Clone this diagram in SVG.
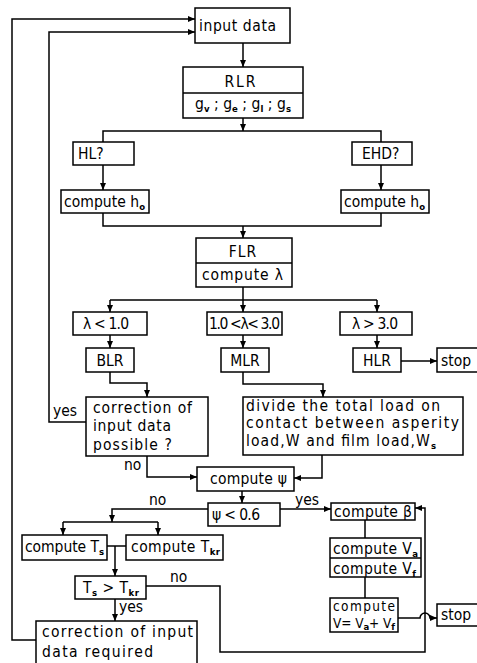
<svg xmlns="http://www.w3.org/2000/svg" width="477" height="663" viewBox="0 0 477 663">
<style>
.b{fill:#fff;stroke:#000;stroke-width:1.5}
.c{fill:none;stroke:#000;stroke-width:1.5}
text{font-family:"DejaVu Sans Condensed","DejaVu Sans","Liberation Sans",sans-serif;font-stretch:condensed;font-size:15.5px;fill:#000}
.s{font-size:9.5px;font-weight:bold}
.m{text-anchor:middle}
.t{font-size:13.5px}
</style>
<defs>
<marker id="a" markerWidth="8" markerHeight="6" refX="7" refY="3" orient="auto" markerUnits="userSpaceOnUse">
<path d="M0,0 L7,3 L0,6 z" fill="#000"/>
</marker>
</defs>
<rect width="477" height="663" fill="#fff"/>
<g id="connectors">
<path class="c" d="M36,640 H12 V19 H195" marker-end="url(#a)"/>
<path class="c" d="M86,422 H49 V32 H195" marker-end="url(#a)"/>
<path class="c" d="M243,43 V67" marker-end="url(#a)"/>
<path class="c" d="M243,118 V131" marker-end="url(#a)"/>
<path class="c" d="M103,142 V131 H381 V142"/>
<path class="c" d="M103,165 V190" marker-end="url(#a)"/>
<path class="c" d="M381,165 V190" marker-end="url(#a)"/>
<path class="c" d="M103,213 V226 H381 V213"/>
<path class="c" d="M243,226 V238" marker-end="url(#a)"/>
<path class="c" d="M243,287 V300 M110,300 H377"/>
<path class="c" d="M110,300 V312" marker-end="url(#a)"/>
<path class="c" d="M243,300 V312" marker-end="url(#a)"/>
<path class="c" d="M377,300 V312" marker-end="url(#a)"/>
<path class="c" d="M110,335 V348" marker-end="url(#a)"/>
<path class="c" d="M243,335 V348" marker-end="url(#a)"/>
<path class="c" d="M377,335 V348" marker-end="url(#a)"/>
<path class="c" d="M401,361 H437" marker-end="url(#a)"/>
<path class="c" d="M110,372 V383 H147 V397" marker-end="url(#a)"/>
<path class="c" d="M243,372 V384 H323 V397" marker-end="url(#a)"/>
<path class="c" d="M147,456 V477 H197" marker-end="url(#a)"/>
<path class="c" d="M322,455 V478 H294" marker-end="url(#a)"/>
<path class="c" d="M242,491 V503" marker-end="url(#a)"/>
<path class="c" d="M208,509 H112 V522" marker-end="url(#a)"/>
<path class="c" d="M63,522 H158"/>
<path class="c" d="M63,522 V535" marker-end="url(#a)"/>
<path class="c" d="M158,522 V535" marker-end="url(#a)"/>
<path class="c" d="M107,546 H126"/>
<path class="c" d="M115,546 V576" marker-end="url(#a)"/>
<path class="c" d="M115,599 V621" marker-end="url(#a)"/>
<path class="c" d="M146,586 H220 V652 H425 V508 H415" marker-end="url(#a)"/>
<path class="c" d="M280,509 H331" marker-end="url(#a)"/>
<path class="c" d="M365,520 V538 M365,577 V598"/>
<path class="c" d="M398,618 H420 A5,5 0 0 1 430,618 H437" marker-end="url(#a)"/>
<text x="53" y="416">yes</text>
<text x="124" y="470">no</text>
<text x="149" y="505">no</text>
<text x="295" y="505">yes</text>
<text x="170" y="582">no</text>
<text x="119" y="612">yes</text>
</g>
<g id="input"><rect class="b" x="195" y="8" width="95" height="35"/><text x="199" y="31" textLength="77">input data</text></g>
<g id="rlr"><rect class="b" x="183" y="67" width="120" height="51"/><path class="c" d="M183,93 H303"/><text class="m" x="241" y="87" letter-spacing="2">RLR</text><text x="195" y="109" textLength="96">g<tspan class="s" dy="3">v</tspan><tspan dy="-3"> ; g</tspan><tspan class="s" dy="3">e</tspan><tspan dy="-3"> ; g</tspan><tspan class="s" dy="3">l</tspan><tspan dy="-3"> ; g</tspan><tspan class="s" dy="3">s</tspan></text></g>
<g id="hl"><rect class="b" x="73" y="142" width="61" height="23"/><text x="78" y="159">HL?</text></g>
<g id="ehd"><rect class="b" x="352" y="142" width="60" height="23"/><text x="362" y="159">EHD?</text></g>
<g id="h0l"><rect class="b" x="61" y="190" width="88" height="23"/><text x="64" y="207" textLength="81">compute h<tspan class="s" dy="3">o</tspan></text></g>
<g id="h0r"><rect class="b" x="341" y="190" width="88" height="23"/><text x="344" y="207" textLength="81">compute h<tspan class="s" dy="3">o</tspan></text></g>
<g id="flr"><rect class="b" x="196" y="238" width="96" height="49"/><path class="c" d="M196,263 H292"/><text class="m" x="243" y="257" letter-spacing="1">FLR</text><text x="202" y="280" textLength="81">compute λ</text></g>
<g id="l1"><rect class="b" x="73" y="312" width="74" height="23"/><text x="83" y="329" textLength="46">λ &lt; 1.0</text></g>
<g id="l2"><rect class="b" x="207" y="312" width="75" height="23"/><text x="209" y="329" textLength="71">1.0 &lt;λ&lt; 3.0</text></g>
<g id="l3"><rect class="b" x="340" y="312" width="72" height="23"/><text x="352" y="329" textLength="46">λ &gt; 3.0</text></g>
<g id="blr"><rect class="b" x="86" y="348" width="48" height="24"/><text class="m" x="110" y="366">BLR</text></g>
<g id="mlr"><rect class="b" x="221" y="348" width="48" height="24"/><text class="m" x="245" y="366">MLR</text></g>
<g id="hlr"><rect class="b" x="353" y="348" width="48" height="24"/><text class="m" x="377" y="366">HLR</text></g>
<g id="stop1"><rect class="b" x="437" y="348" width="50" height="24"/><text x="441" y="366">stop</text></g>
<g id="corr1"><rect class="b" x="86" y="397" width="122" height="59"/><text x="93" y="413" textLength="99">correction of</text><text x="93" y="431" textLength="78">input data</text><text x="93" y="450" textLength="79">possible ?</text></g>
<g id="divide"><rect class="b" x="243" y="397" width="220" height="58"/><text x="246" y="411" textLength="194">divide the total load on</text><text x="246" y="428" textLength="213">contact between asperity</text><text x="246" y="446" textLength="190">load,W and film load,W<tspan class="s" dy="3">s</tspan></text></g>
<g id="psi"><rect class="b" x="197" y="467" width="97" height="24"/><text x="210" y="484" textLength="77">compute ψ</text></g>
<g id="psi06"><rect class="b" x="208" y="503" width="72" height="23"/><text x="212" y="520" textLength="48">ψ &lt; 0.6</text></g>
<g id="ts"><rect class="b" x="22" y="535" width="85" height="25"/><text x="25" y="552" textLength="79">compute T<tspan class="s" dy="3">s</tspan></text></g>
<g id="tkr"><rect class="b" x="126" y="535" width="97" height="25"/><text x="131" y="552" textLength="89">compute T<tspan class="s" dy="3">kr</tspan></text></g>
<g id="tcmp"><rect class="b" x="75" y="576" width="71" height="23"/><text x="83" y="593" textLength="56">T<tspan class="s" dy="3">s</tspan><tspan dy="-3"> &gt; T</tspan><tspan class="s" dy="3">kr</tspan></text></g>
<g id="corr2"><rect class="b" x="36" y="621" width="161" height="50"/><text x="42" y="637" textLength="151">correction of input</text><text x="42" y="657" textLength="111">data required</text></g>
<g id="beta"><rect class="b" x="331" y="503" width="84" height="17"/><text x="334" y="517" textLength="78">compute β</text></g>
<g id="vavf"><rect class="b" x="330" y="538" width="91" height="39"/><path class="c" d="M330,558 H421"/><text x="333" y="554" textLength="85">compute V<tspan class="s" dy="3">a</tspan></text><text x="333" y="574" textLength="83">compute V<tspan class="s" dy="3">f</tspan></text></g>
<g id="v"><rect class="b" x="330" y="598" width="68" height="34"/><text class="t" x="333" y="611" textLength="62">compute</text><text class="t" x="333" y="628" textLength="62">V= V<tspan class="s" dy="2">a</tspan><tspan dy="-2">+ V</tspan><tspan class="s" dy="2">f</tspan></text></g>
<g id="stop2"><rect class="b" x="437" y="604" width="50" height="22"/><text x="441" y="620">stop</text></g>
</svg>
